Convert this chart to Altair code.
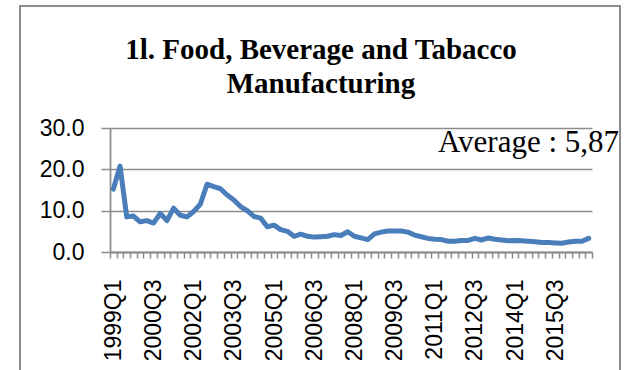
import altair as alt
import pandas as pd

# ---- data ----
quarters = [f"{y}Q{q}" for y in range(1999, 2017) for q in range(1, 5)]
values = [
    15.2, 20.8, 8.5, 8.7, 7.3, 7.6, 7.0, 9.3, 7.6, 10.6,
    8.9, 8.5, 9.8, 11.6, 16.4, 15.8, 15.3, 13.8, 12.6, 11.0,
    10.0, 8.6, 8.2, 6.1, 6.5, 5.4, 5.0, 3.8, 4.3, 3.8,
    3.6, 3.7, 3.8, 4.2, 4.0, 4.9, 3.8, 3.4, 3.0, 4.4,
    4.8, 5.1, 5.1, 5.1, 4.8, 4.1, 3.7, 3.3, 3.1, 3.0,
    2.6, 2.6, 2.8, 2.8, 3.3, 2.9, 3.4, 3.1, 2.9, 2.7,
    2.8, 2.7, 2.6, 2.5, 2.3, 2.3, 2.2, 2.1, 2.4, 2.6,
    2.6, 3.3,
]
label_quarters = quarters[::6]
y_ticks = [0, 10, 20, 30]
title_line1 = "1l. Food, Beverage and Tabacco"
title_line2 = "Manufacturing"
average_text = "Average : 5,87"

df = pd.DataFrame({"quarter": quarters, "value": values})
one = pd.DataFrame({"k": [0]})

GRAY = "#8c8c8c"
BLUE = "#4A7EBB"
AXFONT = "Liberation Sans"

label_expr = ("indexof([" + ",".join(f"'{q}'" for q in label_quarters)
              + "], datum.value) >= 0 ? datum.value : ''")

line = alt.Chart(df).mark_line(
    color=BLUE, strokeWidth=5, strokeJoin="round", strokeCap="round"
).encode(
    x=alt.X(
        "quarter:O", sort=quarters, bandPosition=0.5,
        scale=alt.Scale(type="band", paddingInner=0, paddingOuter=0),
        axis=alt.Axis(
            title=None, labelExpr=label_expr, labelAngle=270, labelOverlap=False,
            tickBand="extent", tickSize=6, tickColor=GRAY, tickWidth=1.5,
            domainColor=GRAY, domainWidth=1.8, labelFont=AXFONT, labelFontSize=23,
            labelColor="black", labelPadding=21, grid=False,
        ),
    ),
    y=alt.Y(
        "value:Q", scale=alt.Scale(domain=[0, 30], nice=False),
        axis=alt.Axis(
            title=None, values=y_ticks, format=".1f", tickSize=9, tickColor=GRAY,
            tickWidth=1.5, domainColor=GRAY, domainWidth=1.8, grid=True,
            gridColor=GRAY, gridWidth=1.5, labelFont=AXFONT, labelFontSize=23,
            labelColor="black", labelPadding=17,
        ),
    ),
)

frame = alt.Chart(one).mark_rect(
    fillOpacity=0, stroke=GRAY, strokeWidth=2
).encode(
    x=alt.value(-90), x2=alt.value(510), y=alt.value(-122), y2=alt.value(260)
)

t1 = alt.Chart(one).mark_text(
    font="Liberation Serif", fontWeight="bold", fontSize=29, align="center",
    baseline="alphabetic", color="black"
).encode(x=alt.value(211), y=alt.value(-69), text=alt.value(title_line1))

t2 = alt.Chart(one).mark_text(
    font="Liberation Serif", fontWeight="bold", fontSize=29, align="center",
    baseline="alphabetic", color="black"
).encode(x=alt.value(211), y=alt.value(-35), text=alt.value(title_line2))

avg = alt.Chart(one).mark_text(
    font="Liberation Serif", fontSize=31, align="left",
    baseline="alphabetic", color="black"
).encode(x=alt.value(328), y=alt.value(24), text=alt.value(average_text))

chart = alt.layer(frame, line, t1, t2, avg).properties(
    width=482, height=124,
    padding={"left": 110, "top": 128, "right": 33, "bottom": 118},
    autosize=alt.AutoSizeParams(type="none"),
    background="white",
).configure_view(stroke=None)

chart.save("out.html", embed_options={"renderer": "svg", "actions": False})
